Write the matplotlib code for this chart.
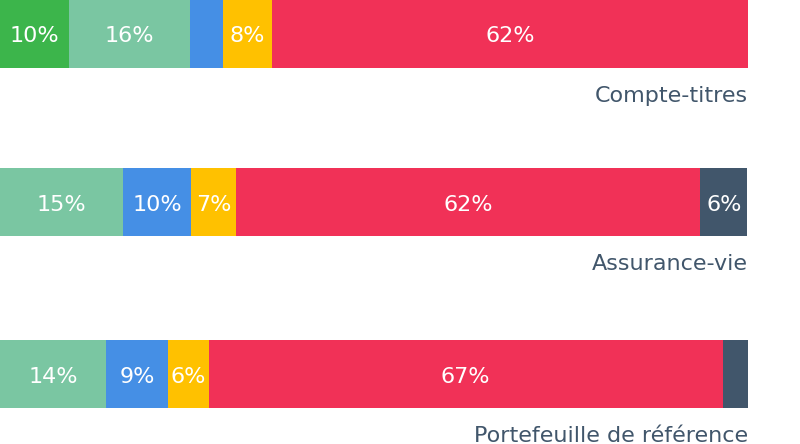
import matplotlib
matplotlib.use("Agg")
import matplotlib.pyplot as plt

plt.rcParams['font.family'] = ['DejaVu Sans']

# portfolio names and segment shares (% of the bar width)
portfolios = ["Compte-titres", "Assurance-vie", "Portefeuille de référence"]
green = [9.2, 0.0, 0.0]
light_green = [16.2, 16.4, 14.2]
blue = [4.4, 9.2, 8.2]
yellow = [6.6, 6.0, 5.5]
red = [63.6, 62.0, 68.7]
dark = [0.0, 6.3, 3.5]

# printed labels inside the segments
green_lbl = ["10%", "", ""]
light_green_lbl = ["16%", "15%", "14%"]
blue_lbl = ["", "10%", "9%"]
yellow_lbl = ["8%", "7%", "6%"]
red_lbl = ["62%", "62%", "67%"]
dark_lbl = ["", "6%", ""]

series = [
    (green, green_lbl, "#3cb54b"),
    (light_green, light_green_lbl, "#7ac6a2"),
    (blue, blue_lbl, "#458fe5"),
    (yellow, yellow_lbl, "#ffc100"),
    (red, red_lbl, "#f13157"),
    (dark, dark_lbl, "#41566b"),
]

W, H = 800, 444
fig = plt.figure(figsize=(W / 100, H / 100), dpi=100)
ax = fig.add_axes([0, 0, 748 / W, 1])
ax.set_xlim(0, 100)
ax.set_ylim(H, 0)
ax.axis("off")

bar_y = [34, 202, 374]
bar_h = 68

left = [0.0, 0.0, 0.0]
for vals, lbls, col in series:
    ax.barh(bar_y, vals, height=bar_h, left=left, color=col, linewidth=0)
    for i in range(3):
        if lbls[i]:
            ax.text(left[i] + vals[i] / 2, bar_y[i] + 8.5, lbls[i], ha="center", va="baseline",
                    color="white", fontsize=16)
    left = [l + v for l, v in zip(left, vals)]

for i, name in enumerate(portfolios):
    ax.text(100, bar_y[i] + 68, name, ha="right", va="baseline", color="#41566b", fontsize=16)

fig.savefig("out.png", dpi=100)
